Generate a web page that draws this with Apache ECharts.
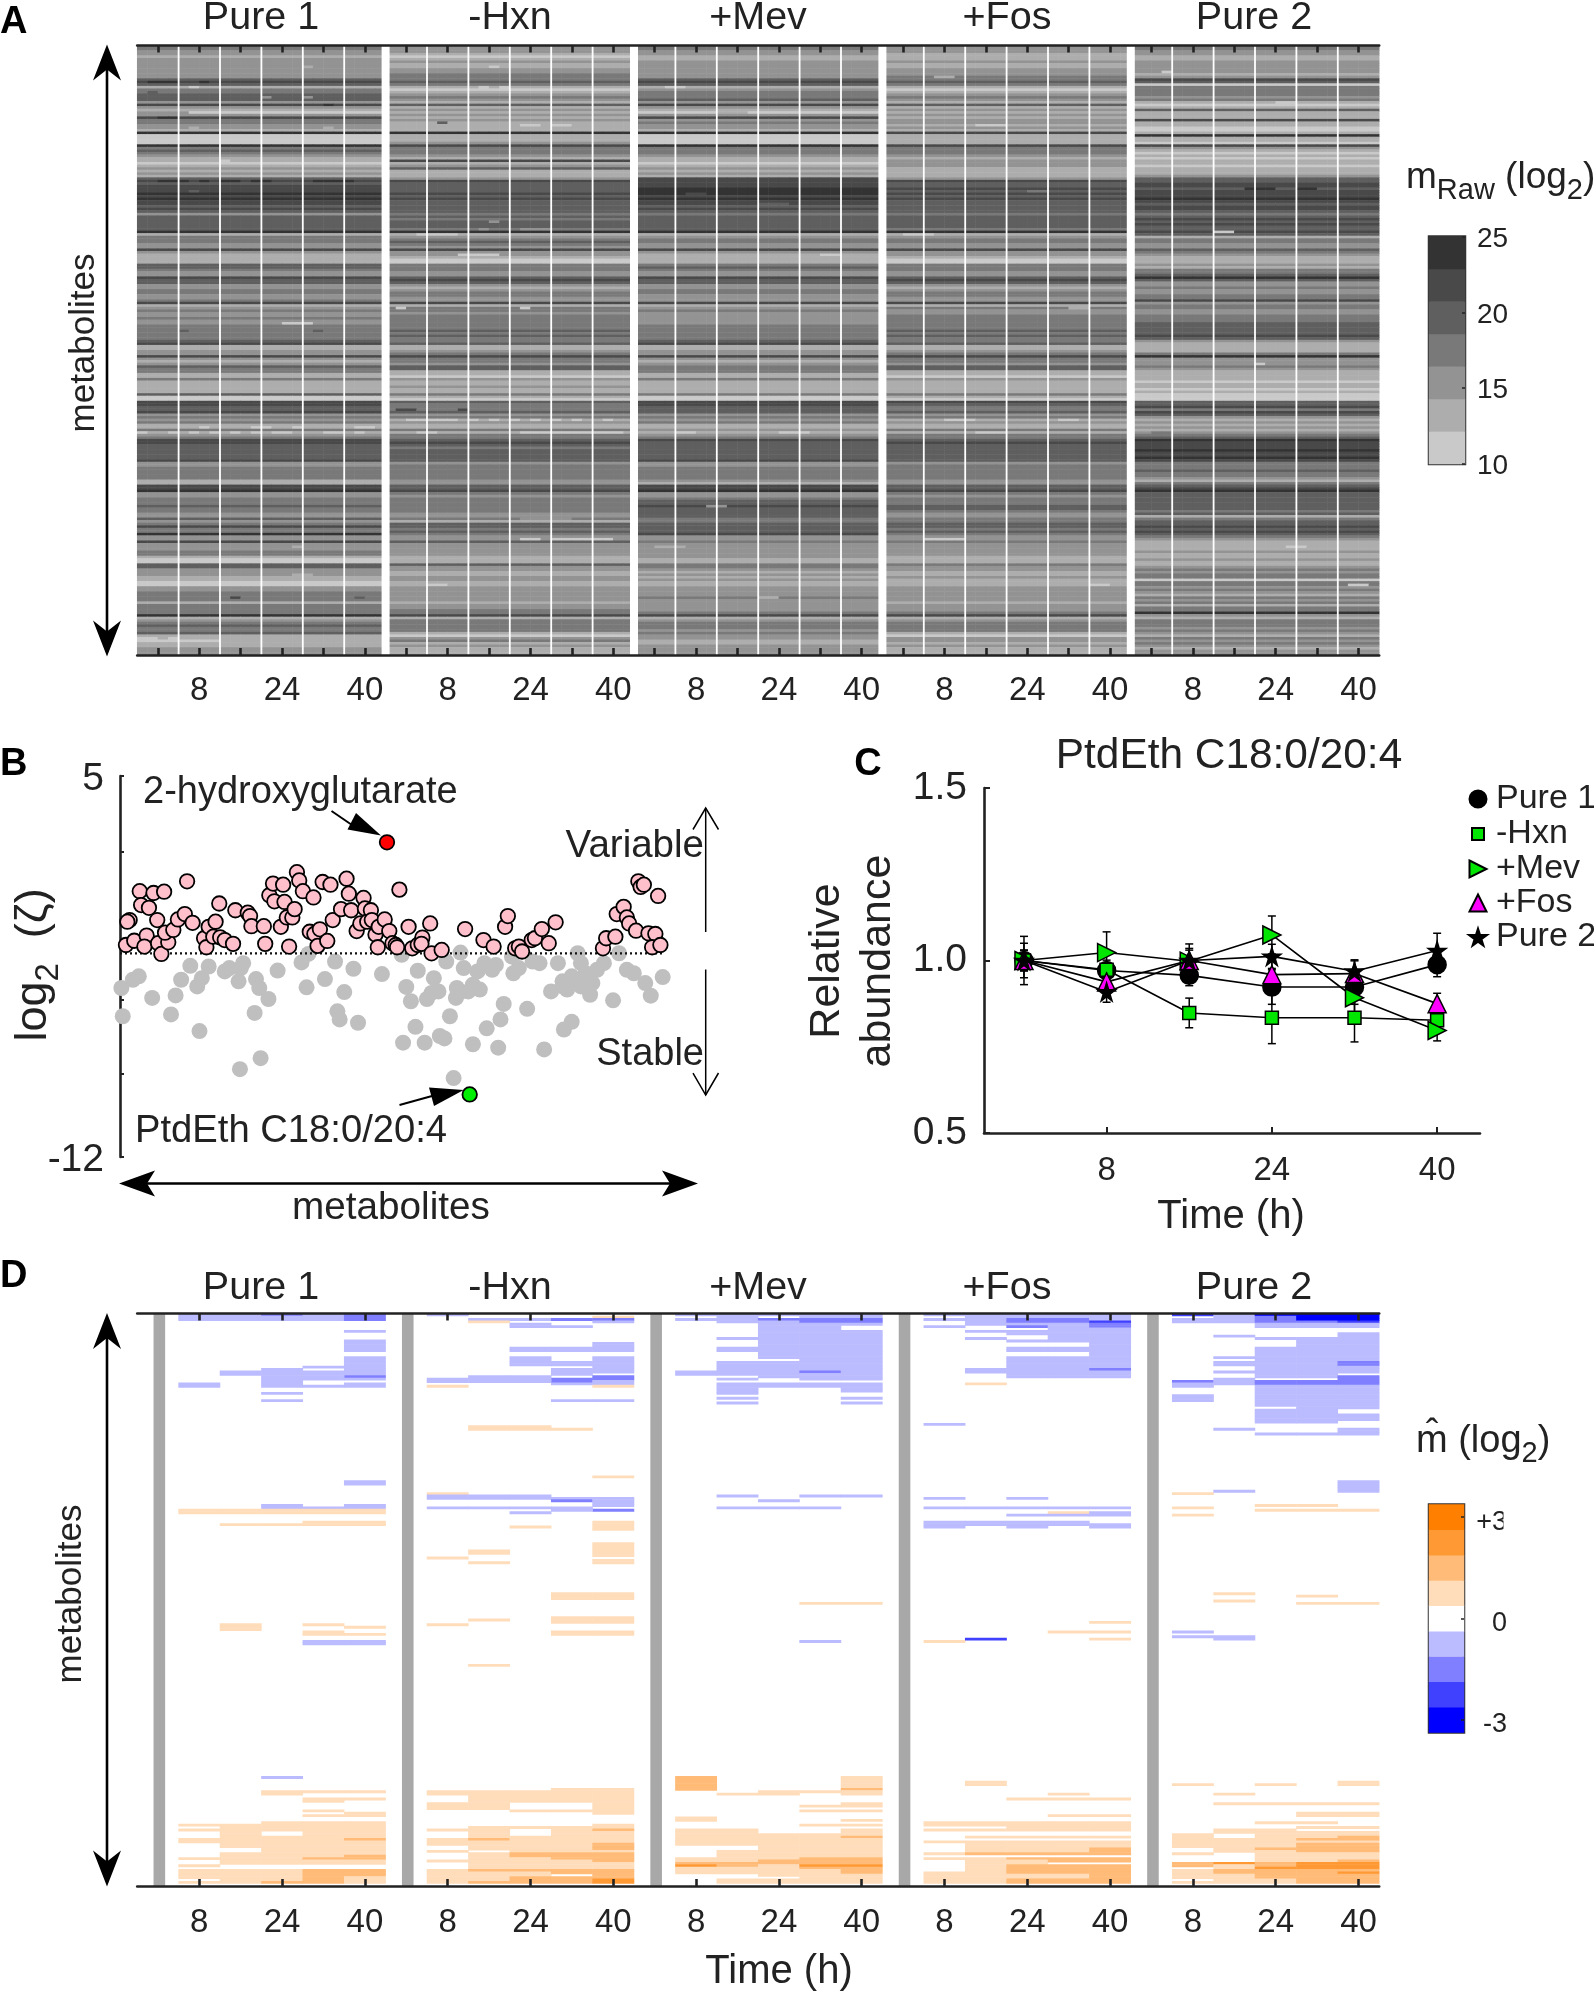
<!DOCTYPE html>
<html><head><meta charset="utf-8">
<style>html,body{margin:0;padding:0;background:#fff}#c{width:1594px;height:1993px}</style>
<script src="https://cdn.jsdelivr.net/npm/echarts@6/dist/echarts.min.js"></script>
</head><body><div id="c"></div>
<script>
const panelNames=['Pure 1','-Hxn','+Mev','+Fos','Pure 2'];
const timeLabels=['0','8','16','24','32','40'];
const labelledTimes=['8','24','40'];
const rawEdges=[10,12.14,14.29,16.43,18.57,20.71,22.86,25];
const rawColors=['#c9c9c9','#adadad','#939393','#797979','#5f5f5f','#494949','#333333'];
const foldEdges=[-3.375,-2.625,-1.875,-1.125,-0.375,0.375,1.125,1.875,2.625,3.375];
const foldColors=['#0000ff','#4040ff','#7f7fff','#bbbbff','#ffffff','#ffddbb','#ffbb77','#ff9933','#ff8000'];

// Panel A: intensity band of each metabolite (one digit per row, 10 rows per string)
const rawPure1=["3322122222","2224541334","4425210253","3221600006","3432110121","2145455565","6554542444","4446133322","5211114432","2544223322","3512322322","3333334511","2252124331","1311111400","5544523231","1312355444","4445223333","3115562233","3433224235","3362252223","3100442221","1002233331","3333612343","3411111222"];
const rawHxn=["2221012112","2333431012","3214121212","1111611125","3332151241","1125444454","5444443434","4436123432","5221003332","2454212332","2513323333","3343433411","2353324411","0211211310","4333423121","1313345434","4444233333","3224453233","3333223144","3432242222","2111422112","2112222221","2233513333","3102312111"];
const rawMev=["3322112222","2224541233","3425210252","3221600006","3332110121","2155556665","6554543444","4446123322","5211113432","2544223322","2512322222","3333334511","2252123331","1311111300","5544423231","1212354444","4445223333","3215562234","4544443344","4452232222","2211332121","2112222322","2223512333","2322112222"];
const rawFos=["2221112112","2233431012","3214121212","2121511115","3332122211","1125445454","5444443444","4436123322","5221003332","2454212332","2513223333","3343433411","2353324411","0211111310","5433423121","1313345444","4444233333","3224453233","3443223344","3432232222","2111322112","1112222221","2223512333","3102212111"];
const rawPure2=["3322112222","2125403333","2310141115","1100161105","2101011011","1244554555","6545543454","5445413322","4321112133","4642232233","5233223334","4444542111","1362223211","1101101000","4453542121","2123465556","5565333433","2134564444","4443413445","4543211112","1121123233","0332321323","1336213332","3213232122"];
// replicate-level departures from the band: [panel,row,replicate,run,band]
const rawPatches=[[0,8,16,1,1],[0,14,1,3,6],[0,14,6,1,6],[0,16,5,1,0],[0,18,1,1,4],[0,20,12,1,2],[0,20,16,1,2],[0,23,18,1,6],[0,26,0,5,2],[0,28,2,2,6],[0,32,5,1,1],[0,32,18,1,1],[0,45,8,1,0],[0,53,2,3,6],[0,53,6,1,6],[0,53,8,2,6],[0,53,11,2,6],[0,53,17,4,6],[0,57,5,1,4],[0,109,14,3,0],[0,112,4,1,4],[0,112,17,1,4],[0,150,6,1,0],[0,150,11,2,0],[0,150,15,1,0],[0,150,21,2,0],[0,152,0,1,0],[0,152,3,1,0],[0,152,5,1,0],[0,152,7,1,0],[0,152,9,1,0],[0,152,11,1,0],[0,152,13,2,0],[0,152,18,2,0],[0,152,21,1,0],[0,181,1,3,4],[0,181,6,2,4],[0,181,12,1,4],[0,181,14,1,4],[0,181,17,1,4],[0,197,15,1,1],[0,208,15,2,1],[0,217,9,1,5],[0,217,21,1,4],[0,233,0,2,0],[0,234,0,8,0],[0,233,3,1,0],
[1,8,10,1,0],[1,16,9,1,0],[1,16,11,1,0],[1,31,13,2,0],[1,31,16,2,0],[1,30,5,1,4],[1,69,10,1,2],[1,72,9,1,2],[1,72,13,3,2],[1,74,3,4,0],[1,82,7,4,0],[1,103,1,1,0],[1,103,13,1,0],[1,147,2,5,0],[1,147,8,1,0],[1,147,10,1,0],[1,147,12,1,0],[1,147,14,1,0],[1,147,16,1,0],[1,147,18,1,0],[1,147,21,1,0],[1,152,13,10,0],[1,152,3,2,0],[1,194,13,2,0],[1,194,16,6,0],[1,212,4,2,0],[1,143,1,2,5],[1,143,7,1,5],[1,186,13,3,2],[1,186,16,2,2],
[2,16,3,2,0],[2,26,8,3,1],[2,58,5,2,5],[2,62,12,3,4],[2,82,18,2,0],[2,152,4,2,0],[2,152,14,3,0],[2,181,7,2,2],[2,197,2,3,1],[2,217,12,2,1],
[3,12,5,2,1],[3,31,9,3,0],[3,57,14,2,3],[3,74,2,3,0],[3,103,18,2,1],[3,147,6,3,0],[3,147,17,2,0],[3,152,9,3,0],[3,194,4,4,0],[3,212,20,2,0],
[4,10,3,1,0],[4,22,14,2,0],[4,56,11,3,6],[4,56,16,2,6],[4,73,8,2,0],[4,125,12,1,0],[4,133,10,2,1],[4,152,2,2,3],[4,197,15,2,0],[4,212,21,2,0]];
const rawBands=[rawPure1,rawHxn,rawMev,rawFos,rawPure2];

// Panel D: fold-change blocks for each panel: [firstTime,lastTime,firstRow,endRow,level]
const foldPure1=[[1,5,0,3,-1],[3,3,0,1,-2],[5,5,0,3,-2],[5,5,7,8,-1],[5,5,11,16,-1],[5,5,18,26,-1],[5,5,26,27,-2],[5,5,27,28,-1],[5,5,29,31,-1],[4,4,22,23,-1],[4,4,24,28,-1],[4,4,30,31,-1],[3,3,23,31,-1],[2,2,24,26,-1],[1,1,29,31,-1],[3,3,33,34,-1],[3,3,36,37,-1],[5,5,70,72,-1],[3,3,80,82,-1],[4,4,81,82,-1],[5,5,80,82,-1],[1,5,82,84,1],[2,3,88,89,1],[4,5,87,89,1],[2,2,130,133,1],[4,4,130,131,1],[4,4,133,135,1],[5,5,131,132,1],[5,5,134,135,1],[4,5,137,139,-1],
[3,3,194,195,-1],[3,3,200,202,1],[4,5,200,201,1],[4,4,203,205,1],[5,5,203,204,1],[4,4,208,209,1],[5,5,209,211,1],[4,4,210,211,1],[1,1,214,215,1],[1,1,216,217,1],[1,1,220,222,1],[1,1,228,229,1],[1,1,231,232,1],[1,1,233,237,1],[1,1,238,239,1],[2,2,214,224,1],[2,2,226,231,1],[2,2,233,239,1],[3,3,213,217,1],[3,3,219,231,1],[3,3,233,239,1],[3,3,238,239,2],[4,4,213,231,1],[4,4,228,229,2],[4,4,233,239,2],[5,5,213,231,1],[5,5,220,221,2],[5,5,227,229,2],[5,5,233,236,2],[5,5,236,239,1]];
const foldHxn=[[1,1,0,1,-1],[2,2,2,3,-1],[2,2,3,4,1],[3,3,2,3,-1],[3,3,4,6,-1],[4,4,2,3,-2],[4,4,5,6,-1],[5,5,1,2,1],[5,5,2,3,-2],[5,5,3,4,-1],[3,4,14,16,-1],[5,5,12,16,-1],[3,3,18,22,-1],[4,4,20,22,-1],[5,5,18,25,-1],[4,4,23,26,-1],[4,4,27,29,-2],[4,4,29,30,-1],[5,5,26,28,-2],[5,5,28,29,-1],[5,5,29,30,-1],[5,5,30,31,1],[2,3,26,29,-1],[1,1,27,29,-1],[1,1,30,31,1],[4,5,36,37,-1],[2,3,47,49,1],[4,4,48,49,1],[5,5,68,69,1],
[1,1,75,76,1],[1,3,76,78,-1],[4,4,77,79,-1],[4,4,78,79,-2],[5,5,77,81,-1],[5,5,82,83,-2],[1,4,81,82,-1],[4,4,82,83,-1],[3,3,83,84,-1],[3,3,89,90,1],[5,5,87,91,1],[2,2,99,101,1],[5,5,96,102,1],[5,5,103,105,1],[2,2,104,105,1],[1,1,102,103,1],[4,5,117,120,1],[1,1,130,131,1],[2,2,128,129,1],[4,5,127,130,1],[4,5,133,135,1],[2,2,147,148,1],
[1,1,200,202,1],[1,1,205,208,1],[1,1,216,217,1],[1,1,220,223,1],[1,1,225,226,1],[1,1,229,230,1],[1,1,233,239,1],[2,2,200,208,1],[2,2,215,225,1],[2,2,220,221,2],[2,2,226,239,1],[2,2,233,234,2],[2,2,238,239,2],[3,3,200,205,1],[3,3,208,209,1],[3,3,215,216,1],[3,3,219,226,1],[3,3,226,228,2],[3,3,228,233,1],[3,3,233,234,2],[3,3,234,236,1],[3,3,236,239,2],[4,4,199,205,1],[4,4,208,209,1],[4,4,215,226,1],[4,4,226,229,2],[4,4,229,233,1],[4,4,233,235,2],[4,4,236,239,2],[5,5,199,210,1],[5,5,214,216,1],[5,5,216,217,2],[5,5,217,222,1],[5,5,222,225,2],[5,5,225,226,1],[5,5,226,230,2],[5,5,230,233,1],[5,5,233,237,2],[5,5,237,239,3]];
const foldMev=[[1,1,0,1,-1],[1,1,2,3,-1],[2,2,0,4,-1],[2,2,10,11,-1],[2,2,14,16,-1],[2,2,20,26,-1],[2,2,27,28,-1],[2,2,29,34,-1],[2,2,35,36,-1],[2,2,37,38,-1],[1,1,24,26,-1],[3,3,0,1,-1],[3,3,2,3,-2],[3,3,3,19,-1],[3,3,20,27,-1],[3,3,29,31,-1],[4,4,0,2,-1],[4,4,2,4,-2],[4,4,4,28,-1],[4,4,24,25,-2],[4,4,29,31,-1],[5,5,0,2,-1],[5,5,2,4,-2],[5,5,4,5,-1],[5,5,7,28,-1],[5,5,29,33,-1],[5,5,35,36,-1],[5,5,37,38,-1],
[2,2,76,77,-1],[2,3,81,82,-1],[3,3,78,79,-1],[4,4,76,77,-1],[4,4,81,82,-1],[5,5,76,77,-1],[4,5,121,122,1],[4,4,137,138,-1],
[1,1,194,200,2],[1,1,211,213,1],[1,1,216,223,1],[1,1,228,230,1],[1,1,230,231,2],[1,1,231,232,3],[1,1,232,235,1],[2,2,201,202,1],[2,2,216,223,1],[2,2,225,230,1],[2,2,230,232,2],[2,2,232,235,1],[2,2,237,239,1],[3,3,200,202,1],[3,3,218,229,1],[3,3,229,231,2],[3,3,231,236,1],[3,3,237,239,1],[4,4,200,201,1],[4,4,206,207,1],[4,4,208,209,1],[4,4,214,215,1],[4,4,218,228,1],[4,4,228,233,2],[4,4,231,232,3],[4,4,233,239,1],[5,5,194,202,1],[5,5,199,200,2],[5,5,205,207,1],[5,5,208,209,1],[5,5,212,213,1],[5,5,214,215,1],[5,5,216,228,1],[5,5,219,220,2],[5,5,228,235,2],[5,5,231,232,3],[5,5,235,239,1]];
const foldFos=[[1,1,0,1,-1],[1,1,2,3,-1],[1,1,5,6,-1],[1,1,46,47,-1],[2,2,0,5,-1],[2,2,7,8,-1],[2,2,10,11,-1],[2,2,23,25,-1],[2,2,29,30,1],[3,3,0,2,-1],[3,3,2,4,-2],[3,3,4,5,-1],[3,3,5,6,-2],[3,3,7,9,-1],[3,3,11,12,-1],[3,3,14,16,-1],[3,3,18,27,-1],[4,4,0,2,-1],[4,4,2,4,-2],[4,4,4,12,-1],[4,4,14,16,-1],[4,4,18,27,-1],[5,5,0,3,-1],[5,5,3,6,-2],[5,5,3,4,-3],[5,5,6,23,-1],[5,5,23,24,-2],[5,5,24,27,-1],
[1,1,77,78,-1],[1,1,81,82,-1],[1,1,87,90,-1],[2,2,81,82,-1],[2,2,87,89,-1],[3,3,77,78,-1],[3,3,81,82,-1],[3,3,84,85,-1],[3,3,87,90,-1],[4,4,81,82,-1],[4,4,83,84,1],[4,4,84,85,-1],[4,4,87,89,-1],[5,5,81,82,-1],[5,5,83,85,-1],[5,5,88,90,-1],[5,5,129,130,1],[4,5,133,134,1],[5,5,136,137,1],[1,1,137,138,1],[2,2,136,137,-3],
[1,1,213,215,1],[1,1,216,217,1],[1,1,221,222,1],[1,1,226,227,1],[1,1,228,229,1],[1,1,234,239,1],[2,2,196,198,1],[2,2,213,215,1],[2,2,216,217,1],[2,2,219,220,1],[2,2,221,226,1],[2,2,226,227,2],[2,2,228,239,1],[3,3,203,204,1],[3,3,213,217,1],[3,3,219,220,1],[3,3,221,226,1],[3,3,226,227,2],[3,3,228,229,2],[3,3,229,231,1],[3,3,231,235,2],[3,3,235,237,1],[3,3,237,239,2],[4,4,201,202,1],[4,4,203,204,1],[4,4,210,211,1],[4,4,213,217,1],[4,4,219,220,1],[4,4,221,226,1],[4,4,226,227,2],[4,4,228,230,2],[4,4,231,235,2],[4,4,235,237,1],[4,4,237,239,2],[5,5,203,204,1],[5,5,210,211,1],[5,5,213,217,1],[5,5,219,220,1],[5,5,221,224,1],[5,5,224,227,2],[5,5,228,230,2],[5,5,231,239,2]];
const foldPure2=[[1,1,0,1,-3],[1,1,2,4,-1],[1,1,28,29,-2],[1,1,29,31,-1],[1,1,34,37,-1],[2,2,0,4,-1],[2,2,9,10,-1],[2,2,18,19,-1],[2,2,20,22,-1],[2,2,24,25,-1],[2,2,27,30,-1],[2,2,48,49,-1],[3,3,0,1,-4],[3,3,1,4,-2],[3,3,4,6,-1],[3,3,10,11,-1],[3,3,14,27,-1],[3,3,28,30,-2],[3,3,30,39,-1],[3,3,40,46,-1],[3,3,50,51,-1],[4,4,0,3,-4],[4,4,3,4,-2],[4,4,4,6,-1],[4,4,10,27,-1],[4,4,28,30,-2],[4,4,30,46,-1],[4,4,50,51,-1],[5,5,0,3,-4],[5,5,3,4,-3],[5,5,4,6,-1],[5,5,8,20,-1],[5,5,20,22,-2],[5,5,22,25,-1],[5,5,26,30,-2],[5,5,30,40,-1],[5,5,42,45,-1],[5,5,48,51,-1],
[1,1,75,76,1],[2,2,74,75,-1],[5,5,70,75,-1],[1,1,81,82,1],[1,1,84,85,1],[3,4,80,81,1],[3,5,82,83,1],[2,2,117,118,1],[2,2,120,121,1],[4,4,118,119,1],[4,5,121,122,1],[1,1,133,134,-1],[1,1,135,136,-1],[2,2,135,137,-1],
[1,1,197,198,1],[1,1,218,224,1],[1,1,226,227,1],[1,1,230,232,2],[1,1,233,237,1],[1,1,238,239,1],[2,2,201,202,1],[2,2,205,206,1],[2,2,216,218,1],[2,2,220,226,1],[2,2,230,231,3],[2,2,231,233,1],[2,2,233,235,2],[2,2,235,239,1],[3,3,197,198,1],[3,3,205,206,1],[3,3,213,214,1],[3,3,216,224,1],[3,3,224,225,2],[3,3,225,230,1],[3,3,230,232,2],[3,3,232,233,3],[3,3,233,237,2],[3,3,237,239,1],[4,4,205,206,1],[4,4,209,211,1],[4,4,213,214,1],[4,4,215,216,1],[4,4,217,220,1],[4,4,220,221,2],[4,4,221,222,1],[4,4,222,226,2],[4,4,226,230,1],[4,4,230,233,3],[4,4,233,239,2],[5,5,196,198,1],[5,5,205,206,1],[5,5,209,211,1],[5,5,215,216,1],[5,5,217,219,1],[5,5,219,221,2],[5,5,221,222,1],[5,5,222,226,2],[5,5,226,229,1],[5,5,229,230,2],[5,5,230,233,3],[5,5,233,234,2],[5,5,234,235,3],[5,5,235,239,2]];
const foldPanels=[foldPure1,foldHxn,foldMev,foldFos,foldPure2];

// Panel B: [metabolite rank, log2 zeta]
const variablePoints=[[2.6,-2.54],[4.2,-1.43],[3.2,-1.50],[6.2,-2.35],[8.6,-0.14],[9.2,-0.76],[12.6,-0.88],[11.6,-2.12],[10.6,-2.61],[14.6,-0.22],[19.2,-0.16],[16.2,-1.43],[16.6,-2.46],[18,-2.94],[21,-2.42],[19.6,-1.99],[23.2,-1.87],[25.2,-1.40],[28.2,-1.16],[31.6,-1.55],[29.2,0.30],[36.6,-2.24],[37.6,-2.64],[38.6,-1.73],[41.6,-1.50],[43.2,-0.69],[40.6,-2.17],[43.6,-2.20],[45.6,-2.32],[49.2,-2.49],[50.2,-0.99],[55.6,-1.10],[56.6,-1.25],[57.2,-1.70],[62.6,-1.70],[63.2,-2.49],[65,-0.32],[66.6,0.20],[71,0.15],[67.2,-0.59],[71.6,-0.62],[70,-1.73],[73.6,-2.61],[72.6,-1.31],[75,-1.31],[76,-0.94],[77,0.71],[78,0.34],[79.6,-0.14],[84.2,-0.42],[82.6,-1.95],[84.6,-2.05],[87,-1.84],[86,-2.58],[90.2,-2.36],[88.2,0.27],[91.6,0.15],[92.6,-1.43],[96.2,-0.94],[98.6,0.42],[99.6,-0.25],[100.6,-0.99],[103,-1.92],[104.6,-1.58],[106,-0.44],[106.6,-0.91],[107.6,-1.50],[109.2,-0.99],[109.6,-1.43],[111.2,-2.07],[112.6,-1.73],[112.2,-2.64],[115.2,-1.40],[117.2,-1.92],[118.6,-2.46],[120,-2.54],[120.6,-2.64],[121.6,-0.07],[125.6,-1.73],[127.2,-2.69],[129.6,-2.54],[131.6,-2.21],[131.2,-2.49],[135,-1.58],[135.6,-2.91],[140,-2.76],[150.2,-1.83],[158.2,-2.32],[162.6,-2.61],[167.6,-1.73],[168.8,-1.25],[172,-2.69],[173.6,-2.61],[175,-2.83],[179.2,-2.32],[180.6,-2.24],[183.6,-1.83],[186.6,-2.46],[189.6,-1.53],[210.2,-2.69],[211.6,-2.24],[215.6,-2.17],[216.2,-1.16],[219.2,-0.84],[220.6,-1.31],[221.6,-1.58],[224.6,-1.90],[225.6,0.30],[226.6,0.05],[228,0.15],[230,-2.02],[233,-2.05],[234.2,-0.35],[231.6,-2.64],[235.2,-2.54]];
const stablePoints=[[0.6,-4.46],[1.2,-5.72],[5.6,-4.09],[8.2,-3.94],[14,-4.90],[22.2,-5.64],[24.2,-4.79],[26.6,-4.09],[30.6,-3.47],[34.6,-6.38],[33.6,-4.39],[35.6,-4.02],[38.6,-3.50],[45.6,-3.72],[47.6,-3.57],[51.6,-4.16],[53.6,-3.35],[52.6,-3.57],[58.6,-5.57],[59.2,-4.06],[60.6,-4.46],[64.6,-4.95],[68.6,-3.68],[79,-3.32],[82,-2.94],[81.2,-4.43],[89.2,-4.06],[93.6,-3.28],[94.6,-5.50],[95.6,-5.86],[97.6,-4.64],[101.6,-3.60],[103.6,-6.01],[114,-3.84],[122.6,-2.98],[124.6,-4.41],[126.6,-5.05],[128.6,-6.19],[129.6,-3.69],[123.2,-6.90],[132.6,-6.90],[133.6,-4.95],[136.6,-4.02],[138.6,-4.61],[139.2,-6.60],[141.2,-6.71],[142,-3.28],[143.6,-5.72],[146.2,-4.90],[146.6,-4.46],[148.2,-2.88],[149.6,-3.57],[151.6,-4.61],[153.6,-6.97],[155.6,-3.72],[156.6,-4.53],[158.6,-3.35],[159.6,-6.26],[162,-3.65],[163.6,-3.43],[164.6,-7.12],[165.6,-5.86],[167,-5.17],[170.6,-3.06],[171.2,-3.80],[173.6,-3.57],[177.2,-5.39],[179.6,-3.28],[182.6,-3.35],[184.6,-7.20],[187.6,-4.61],[190.6,-3.35],[192.6,-4.16],[193.2,-6.31],[196.6,-5.97],[194.6,-4.53],[198.6,-4.16],[199.2,-2.91],[200.6,-3.35],[202.6,-3.80],[204.6,-4.76],[205.6,-4.24],[207.6,-3.65],[210.6,-3.35],[214.6,-5.01],[217.2,-2.91],[220.6,-3.65],[223.6,-3.80],[228.6,-4.24],[231,-4.80],[236.2,-3.97],[52.2,-8.08],[61.2,-7.59],[145.2,-8.48],[192.6,-4.39],[196.6,-3.94],[200.6,-4.39],[203.6,-4.39],[153.6,-4.31],[135.6,-4.68],[147.6,-4.68]];
const hydroxyPoint=[[116.2,2.04]];
const ptdEthPoint=[[152.2,-9.21]];
const thresholdLine=[[0,-2.91],[236,-2.91]];

// Panel C
const hours=[0,8,16,24,32,40];
const conditionNames=['Pure 1','-Hxn','+Mev','+Fos','Pure 2'];
const abundancePure1=[1.0,0.971,0.957,0.923,0.923,0.988];
const abundanceHxn=[1.0,0.973,0.848,0.834,0.834,0.827];
const abundanceMev=[1.0,1.023,0.998,1.074,0.892,0.797];
const abundanceFos=[1.0,0.938,1.0,0.959,0.962,0.875];
const abundancePure2=[1.0,0.909,1.0,1.012,0.969,1.029];
const errorPure1=[0.07,0.03,0.03,0.05,0.05,0.035];
const errorHxn=[0.05,0.02,0.043,0.075,0.07,0.03];
const errorMev=[0.02,0.06,0.05,0.055,0.06,0.03];
const errorFos=[0.03,0.03,0.03,0.05,0.04,0.03];
const errorPure2=[0.03,0.03,0.035,0.035,0.03,0.05];

const FF='"Liberation Sans"', INK='#222';
const STAR='path://M50 0L61 35L98 35L68 57L79 91L50 70L21 91L32 57L2 35L39 35Z';
const RIGHT='path://M0 0L100 50L0 100Z';
const SQUARE='path://M0 0H100V100H0Z';

// build heat data
const subCats=[];for(let i=0;i<120;i++)subCats.push(String(i));
const rowCats=[];for(let i=0;i<240;i++)rowCats.push(String(i));
const timeCats=[];for(let p=0;p<5;p++)timeCats.push(...timeLabels);
const bandVal=l=>10+(l+0.5)*15/7;
const rawGrid=rawBands.map(strs=>{const s=strs.join('');const g=[];for(let r=0;r<240;r++){const a=[];for(let k=0;k<24;k++)a.push(+s[r]);g.push(a);}return g;});
rawPatches.forEach(([p,r,k,n,l])=>{for(let i=0;i<n;i++)if(k+i<24)rawGrid[p][r][k+i]=l;});
const rawData=[];rawGrid.forEach((g,p)=>g.forEach((a,r)=>a.forEach((l,k)=>rawData.push([p*24+k,r,bandVal(l)]))));
const foldGrid={};
foldPanels.forEach((blocks,p)=>blocks.forEach(([c0,c1,r0,r1,l])=>{for(let c=c0;c<=c1;c++)for(let r=r0;r<r1;r++)foldGrid[(p*6+c)+'_'+r]=l;}));
const foldData=Object.keys(foldGrid).map(k=>{const [c,r]=k.split('_').map(Number);return [c,r,foldGrid[k]*0.75];});
const thinLines=[],wideLines=[],greyBars=[];
for(let i=1;i<30;i++)(i%6?thinLines:wideLines).push([i,0]);
for(let p=0;p<5;p++)greyBars.push([p*6+0.535,0]);

function bars(xi,yi,data,w,color){return {type:'custom',xAxisIndex:xi,yAxisIndex:yi,z:3,silent:true,clip:false,data,
 renderItem:(params,api)=>{const c=params.coordSys,x=api.coord([api.value(0),0])[0];
  return {type:'rect',shape:{x:x-w/2,y:c.y,width:w,height:c.height},style:{fill:color}};}};}
const pieces=(e,c)=>c.map((col,i)=>({min:e[i],max:e[i+1],color:col}));
function errBars(xi,yi,vals,errs,z){return {type:'custom',xAxisIndex:xi,yAxisIndex:yi,z,silent:true,
 data:hours.map((h,i)=>[h,vals[i]-errs[i],vals[i]+errs[i]]),
 renderItem:(params,api)=>{const a=api.coord([api.value(0),api.value(1)]),b=api.coord([api.value(0),api.value(2)]);const s={stroke:'#000',lineWidth:1.5};
  return {type:'group',children:[{type:'line',shape:{x1:a[0],y1:a[1],x2:b[0],y2:b[1]},style:s},{type:'line',shape:{x1:a[0]-4,y1:a[1],x2:a[0]+4,y2:a[1]},style:s},{type:'line',shape:{x1:b[0]-4,y1:b[1],x2:b[0]+4,y2:b[1]},style:s}]};}};}
function lineSeries(name,vals,symbol,size,color,z){return {type:'line',name,xAxisIndex:7,yAxisIndex:3,z,data:hours.map((h,i)=>[h,vals[i]]),symbol,symbolSize:size,showAllSymbol:true,lineStyle:{color:'#000',width:1.6},itemStyle:{color,borderColor:'#000',borderWidth:1.5,opacity:1}};}

const timeInterval=(i,v)=>labelledTimes.includes(v);
const catAxis=(grid,pos,labelled,ticksAll,margin)=>({type:'category',gridIndex:grid,position:pos,data:timeCats,z:5,boundaryGap:true,
 axisLine:{show:true,onZero:false,lineStyle:{color:INK,width:2.6}},
 axisTick:{show:true,inside:true,alignWithLabel:true,interval:ticksAll?0:timeInterval,length:7,lineStyle:{color:INK,width:2.6}},
 axisLabel:{show:labelled,interval:timeInterval,fontSize:33,color:'#222',margin,fontFamily:FF},splitLine:{show:false}});
const hiddenX=(grid,extra)=>Object.assign({gridIndex:grid,show:false,splitLine:{show:false}},extra);
// labels that sit a little below their tick, as in the figure
const dropped=(fmt,size,drop)=>({formatter:v=>'{v|'+fmt(v)+'}',rich:{v:{fontSize:size,fontFamily:FF,color:'#222',padding:[drop*2,0,0,0]}}});

const xAxis=[
 hiddenX(0,{type:'category',data:subCats}),       //0
 catAxis(0,'bottom',true,true,19),                 //1
 catAxis(0,'top',false,true,19),                   //2
 hiddenX(0,{type:'value',min:0,max:30}),           //3
 catAxis(1,'bottom',true,false,20),                //4
 catAxis(1,'top',false,false,20),                  //5
 hiddenX(1,{type:'value',min:0,max:30}),           //6
 // C
 {type:'value',gridIndex:3,min:-3.87,max:44.15,position:'bottom',splitLine:{show:false},axisLine:{show:true,onZero:false,lineStyle:{color:INK,width:2.6}},axisTick:{show:true,inside:true,length:6,customValues:[8,24,40],lineStyle:{color:INK,width:2}},axisLabel:{customValues:[8,24,40],fontSize:33,color:'#222',margin:21,fontFamily:FF}}, //7
 // B
 hiddenX(2,{type:'value',min:0,max:252}),          //8
 hiddenX(4,{type:'category',data:['a']}),          //9
 hiddenX(5,{type:'category',data:['d']})           //10
];
const yAxis=[
 {type:'category',gridIndex:0,inverse:true,data:rowCats,show:false},
 {type:'category',gridIndex:1,inverse:true,data:rowCats,show:false},
 {type:'value',gridIndex:2,min:-12,max:5,position:'left',splitLine:{show:false},axisLine:{show:true,onZero:false,lineStyle:{color:INK,width:2.6}},axisTick:{show:true,inside:true,length:4,customValues:[5,1.6,-1.7,-5,-8.3,-12],lineStyle:{color:INK,width:2}},axisLabel:Object.assign({customValues:[5,-12],margin:16},dropped(String,39,3))},
 {type:'value',gridIndex:3,min:0.5,max:1.5,interval:0.5,position:'left',splitLine:{show:false},axisLine:{show:true,onZero:false,lineStyle:{color:INK,width:2.6}},axisTick:{show:true,inside:true,length:6,lineStyle:{color:INK,width:2}},axisLabel:{formatter:v=>v.toFixed(1),fontSize:39,color:'#222',margin:17,fontFamily:FF}},
 {type:'category',gridIndex:4,data:rawColors.map((c,i)=>String(i)),show:false},
 {type:'value',gridIndex:4,min:10,max:25,interval:5,position:'right',splitLine:{show:false},axisLine:{show:false},axisTick:{show:true,inside:true,length:3,lineStyle:{color:INK,width:1.5}},axisLabel:Object.assign({margin:12},dropped(String,28,2.5)),z:5},
 {type:'category',gridIndex:5,data:foldColors.map((c,i)=>String(i)),show:false},
 {type:'value',gridIndex:5,min:-3.375,max:3.375,position:'right',splitLine:{show:false},axisLine:{show:false},axisTick:{show:true,inside:true,length:3,customValues:[-3,0,3],lineStyle:{color:INK,width:1.5}},axisLabel:Object.assign({customValues:[-3,0,3],align:'right',margin:43},dropped(v=>v>0?'+'+v:String(v),27,5)),z:5}
];
const rawCenters=rawEdges.slice(0,-1).map((e,i)=>(e+rawEdges[i+1])/2);
const foldCenters=foldEdges.slice(0,-1).map((e,i)=>(e+foldEdges[i+1])/2);

const series=[
 {type:'heatmap',name:'raw',xAxisIndex:0,yAxisIndex:0,data:rawData,progressive:0,silent:true,z:2,itemStyle:{borderWidth:0}},
 {type:'heatmap',name:'fold',xAxisIndex:4,yAxisIndex:1,data:foldData,progressive:0,silent:true,z:2,itemStyle:{borderWidth:0}},
 {type:'heatmap',name:'rawBar',xAxisIndex:9,yAxisIndex:4,data:rawCenters.map((v,i)=>[0,i,v]),progressive:0,silent:true,z:2},
 {type:'heatmap',name:'foldBar',xAxisIndex:10,yAxisIndex:6,data:foldCenters.map((v,i)=>[0,i,v]),progressive:0,silent:true,z:2},
 bars(3,0,thinLines,1.8,'#ffffff'),
 bars(3,0,wideLines,8,'#ffffff'),
 bars(6,1,greyBars,11.6,'#a8a8a8'),
 // B
 {type:'scatter',name:'Stable',xAxisIndex:8,yAxisIndex:2,data:stablePoints,symbolSize:16,itemStyle:{color:'#bfbfbf',opacity:1},z:2,silent:true},
 {type:'line',name:'threshold',xAxisIndex:8,yAxisIndex:2,data:thresholdLine,symbol:'none',lineStyle:{color:'#111',type:[2,3],width:2.2},z:3,silent:true},
 {type:'scatter',name:'Variable',xAxisIndex:8,yAxisIndex:2,data:variablePoints,symbolSize:14.5,itemStyle:{color:'#ffc0cb',borderColor:'#000',borderWidth:1.8,opacity:1},z:4,silent:true},
 {type:'scatter',name:'2-hydroxyglutarate',xAxisIndex:8,yAxisIndex:2,data:hydroxyPoint,symbolSize:14.5,itemStyle:{color:'#ff0000',borderColor:'#000',borderWidth:1.8,opacity:1},z:5,silent:true},
 {type:'scatter',name:'PtdEth C18:0/20:4',xAxisIndex:8,yAxisIndex:2,data:ptdEthPoint,symbolSize:14.5,itemStyle:{color:'#00ee00',borderColor:'#000',borderWidth:1.8,opacity:1},z:5,silent:true},
 // C
 errBars(7,3,abundancePure1,errorPure1,2),errBars(7,3,abundanceHxn,errorHxn,2),errBars(7,3,abundanceMev,errorMev,2),errBars(7,3,abundanceFos,errorFos,2),errBars(7,3,abundancePure2,errorPure2,2),
 lineSeries(conditionNames[0],abundancePure1,'circle',18,'#000',3),
 lineSeries(conditionNames[1],abundanceHxn,'rect',13,'#00e600',4),
 lineSeries(conditionNames[2],abundanceMev,RIGHT,18,'#00e600',5),
 lineSeries(conditionNames[3],abundanceFos,'triangle',18,'#ff00ff',6),
 lineSeries(conditionNames[4],abundancePure2,STAR,18,'#000',7)
];

// annotation helpers
const txt=(t,x,y,size,o)=>Object.assign({type:'text',x,y,z:50,style:Object.assign({text:t,fontFamily:FF,fontSize:size,fill:'#222',align:'center',verticalAlign:'middle'},o&&o.style||{})},o&&o.el||{});
const poly=pts=>({type:'polygon',z:50,shape:{points:pts},style:{fill:'#000'}});
const ln=(x1,y1,x2,y2,w)=>({type:'line',z:50,shape:{x1,y1,x2,y2},style:{stroke:'#000',lineWidth:w}});
const open=pts=>({type:'polyline',z:50,shape:{points:pts},style:{stroke:'#000',lineWidth:1.5,fill:null}});
function vArrow(x,y1,y2){return [ln(x,y1+20,x,y2-20,2.6),poly([[x,y1],[x+14,y1+36],[x,y1+25],[x-14,y1+36]]),poly([[x,y2],[x+14,y2-36],[x,y2-25],[x-14,y2-36]])];}
const subRich={a:{fontSize:37,fontFamily:FF,fill:'#222',lineHeight:44},b:{fontSize:29,fontFamily:FF,fill:'#222',lineHeight:28,padding:[26,0,0,0]}};
const up=Math.PI/2;
const titleX=[261,510,758,1007,1254];
const graphic=[
 ...panelNames.map((n,i)=>txt(n,titleX[i],18,39.5)),
 ...panelNames.map((n,i)=>txt(n,titleX[i],1288,39.5)),
 txt('A',0,23,38,{style:{fontWeight:'bold',align:'left',fill:'#000'}}),
 txt('B',0,765,38,{style:{fontWeight:'bold',align:'left',fill:'#000'}}),
 txt('C',868,765,38,{style:{fontWeight:'bold',fill:'#000'}}),
 txt('D',0,1277,38,{style:{fontWeight:'bold',align:'left',fill:'#000'}}),
 ...vArrow(107,44.5,656.5),
 txt('metabolites',84,343,35,{el:{rotation:up}}),
 ...vArrow(107,1313,1886.5),
 txt('metabolites',71.5,1594,35,{el:{rotation:up}}),
 txt('Time (h)',779,1972,40),
 // B
 txt('2-hydroxyglutarate',143,793,38,{style:{align:'left'}}),
 txt('PtdEth C18:0/20:4',135,1131,38.2,{style:{align:'left'}}),
 txt('Variable',704,846,38.5,{style:{align:'right'}}),
 txt('Stable',704,1055,38,{style:{align:'right'}}),
 ln(331.5,811,352,825,2),poly([[381,835.5],[356,813],[347.5,829.5]]),
 ln(399.5,1105,432,1096,2),poly([[463.7,1090],[429,1087.5],[434,1106]]),
 ln(705.7,808,705.7,932,1.5),open([[693,829.5],[705.7,808],[718.5,829.5]]),
 ln(705.7,969.5,705.7,1095,1.5),open([[693,1073],[705.7,1095],[718.5,1073]]),
 ln(130,1183.5,690,1183.5,2.6),poly([[119,1183.5],[155,1170.5],[147,1183.5],[155,1196.5]]),poly([[698,1183.5],[662,1170.5],[670,1183.5],[662,1196.5]]),
 txt('metabolites',391,1208,38.7),
 {type:'text',x:34,y:965,z:50,rotation:up,style:{text:'{a|log}{b|2}{a|  (ζ)}',rich:{a:{fontSize:45,fontFamily:FF,fill:'#222',lineHeight:50},b:{fontSize:33,fontFamily:FF,fill:'#222',lineHeight:30,padding:[30,0,0,0]}},align:'center',verticalAlign:'middle'}},
 // C
 txt('PtdEth C18:0/20:4',1229,756,42.4),
 txt('Time (h)',1231,1217,40),
 txt('Relative',827,961,43,{el:{rotation:up}}),
 txt('abundance',878.5,961,43,{el:{rotation:up}}),
 // colour-bar titles
 {type:'text',x:1406,y:178,z:50,style:{text:'{a|m}{b|Raw}{a| (log}{b|2}{a|)}',rich:subRich,align:'left',verticalAlign:'middle'}},
 {type:'text',x:1416,y:1442,z:50,style:{text:'{a|m\u0302 (log}{b|2}{a|)}',rich:{a:{fontSize:38,fontFamily:FF,fill:'#222',lineHeight:44},b:{fontSize:29,fontFamily:FF,fill:'#222',lineHeight:28,padding:[24,0,0,0]}},align:'left',verticalAlign:'middle'}},
 {type:'rect',z:60,shape:{x:1503.5,y:1505,width:14,height:36},style:{fill:'#fff'}}
];

// one legend block per condition, so each key can keep its own marker size
const legendIcons=['circle',SQUARE,RIGHT,'triangle',STAR];
const legendSizes=[17,12,17,17,18];
const legendCentres=[799,834,869,903,937];
const legend=conditionNames.map((n,i)=>({orient:'vertical',padding:0,left:1477-legendSizes[i]/2,top:legendCentres[i]-17,itemWidth:legendSizes[i],itemHeight:legendSizes[i],selectedMode:false,
  textStyle:{fontSize:34,color:'#222',fontFamily:FF,lineHeight:34,padding:[0,0,0,13-legendSizes[i]/2]},data:[{name:n,icon:legendIcons[i]}]}));

const chart=echarts.init(document.getElementById('c'),null,{width:1594,height:1993});
chart.setOption({
 animation:false,backgroundColor:'#fff',textStyle:{fontFamily:FF},
 grid:[
  {left:137.2,top:45.5,width:1242,height:609.5},
  {left:137.2,top:1313.5,width:1242,height:572.5},
  {left:120,top:776,width:579,height:381},
  {left:984,top:788,width:496,height:345},
  {left:1429,top:236.5,width:36,height:227.5,show:true,borderColor:'#333',borderWidth:2.5,backgroundColor:'transparent'},
  {left:1429,top:1504.5,width:35,height:228,show:true,borderColor:'#333',borderWidth:2.5,backgroundColor:'transparent'}
 ],
 xAxis,yAxis,series,graphic,legend,
 visualMap:[
  {type:'piecewise',show:false,dimension:2,seriesIndex:[0,2],pieces:pieces(rawEdges,rawColors)},
  {type:'piecewise',show:false,dimension:2,seriesIndex:[1,3],pieces:pieces(foldEdges,foldColors)}
 ]
});
</script></body></html>
